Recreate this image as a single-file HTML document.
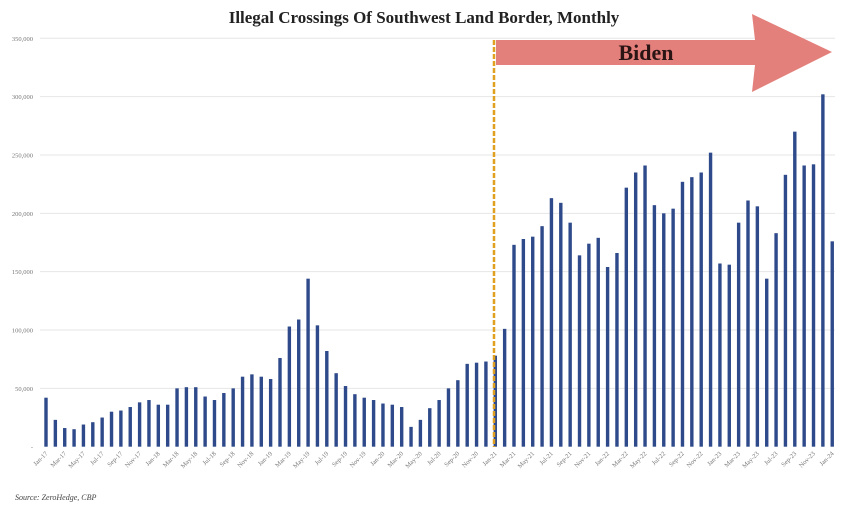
<!DOCTYPE html>
<html><head><meta charset="utf-8"><style>
html,body{margin:0;padding:0;background:#fff;}
svg{display:block;}
</style></head><body>
<svg id="c" width="848" height="515" xmlns="http://www.w3.org/2000/svg">
<rect width="848" height="515" fill="#fff"/>
<text x="424" y="23" text-anchor="middle" font-family="Liberation Serif, serif" font-weight="bold" font-size="17" fill="#222">Illegal Crossings Of Southwest Land Border, Monthly</text>
<g id="grid"></g>
<g id="bars"></g>
<line x1="494" y1="40" x2="494" y2="447" stroke="#e0a020" stroke-width="2.5" stroke-dasharray="5,2"/>
<polygon points="496,40 755,40 752,14 832,52 752,92 755,65 496,65" fill="#e4807b"/>
<text x="646" y="60" text-anchor="middle" font-family="Liberation Serif, serif" font-weight="bold" font-size="22" fill="#2a1414">Biden</text>
<g id="xl"></g>
<text x="15" y="500" font-family="Liberation Serif, serif" font-style="italic" font-size="8" fill="#444">Source: ZeroHedge, CBP</text>
</svg>
<script>
var ns="http://www.w3.org/2000/svg";
function el(t,a,p,txt){var e=document.createElementNS(ns,t);for(var k in a)e.setAttribute(k,a[k]);if(txt)e.textContent=txt;document.getElementById(p).appendChild(e);return e;}
var base=446.7,sc=408.4/350;
for(var i=0;i<=7;i++){var v=i*50,y=base-v*sc;
 if(i>0)el("line",{x1:40,x2:835,y1:y,y2:y,stroke:"#e6e6e6","stroke-width":1},"grid");
 el("text",{x:33,y:y+2.5,"text-anchor":"end","font-family":"Liberation Serif, serif","font-size":"6.5",fill:"#777"},"grid",i==0?"-":(v+",000"));}
var d=[42,23,16,15,19,21,25,30,31,34,38,40,36,36,50,51,51,43,40,46,50,60,62,60,58,76,103,109,144,104,82,63,52,45,42,40,37,36,34,17,23,33,40,50,57,71,72,73,78,101,173,178,180,189,213,209,192,164,174,179,154,166,222,235,241,207,200,204,227,231,235,252,157,156,192,211,206,144,183,233,270,241,242,302,176];
var m=["Jan","Mar","May","Jul","Sep","Nov"];
for(var i=0;i<d.length;i++){var x=46+i*9.36,h=d[i]*sc;
 el("rect",{x:x-1.7,y:base-h,width:3.4,height:h,fill:"#2e4a8a"},"bars");
 if(i%2==0){var yr=17+Math.floor(i/12),lab=m[(i%12)/2]+"-"+yr;
  el("text",{x:x+2,y:454,"text-anchor":"end","font-family":"Liberation Serif, serif","font-size":"6.5",fill:"#777",transform:"rotate(-45 "+(x+2)+" 454)"},"xl",lab);}
}
</script>
</body></html>
